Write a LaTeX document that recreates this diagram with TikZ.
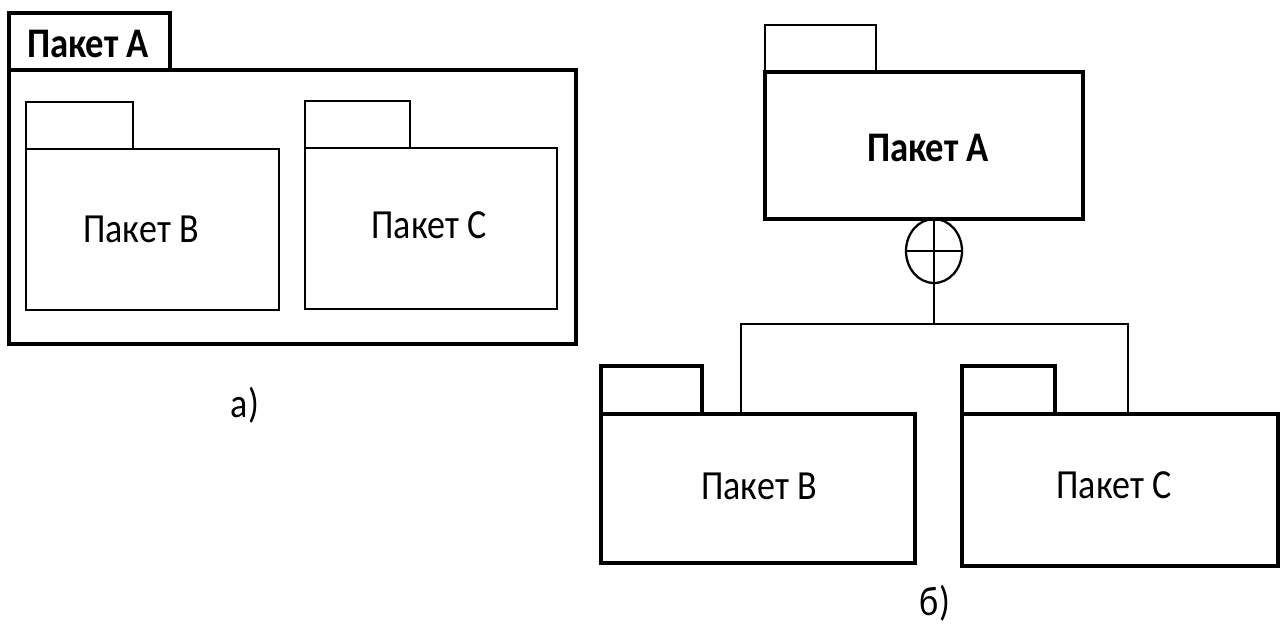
\documentclass[tikz,border=0pt]{standalone}
\usepackage{fontspec}
\setmainfont{Carlito}
\usetikzlibrary{shapes.geometric}
\tikzset{
  thickbox/.style={draw=black, line width=3.2pt, inner sep=0pt, rectangle, fill=none},
  thinbox/.style={draw=black, line width=1.7pt, inner sep=0pt, rectangle, fill=none},
  conn/.style={draw=black, line width=1.4pt},
  lbl/.style={inner sep=0pt, font=\fontsize{27}{32}\selectfont},
  blbl/.style={inner sep=0pt, font=\fontsize{27.5}{32}\selectfont\bfseries},
}
\newcommand{\st}[1]{\scalebox{1}[1.15]{#1}}
\begin{document}
\begin{tikzpicture}[x=0.75pt,y=-0.75pt]
\useasboundingbox (0,0) rectangle (1284,624);
% ---- a) ----
\node[thickbox, minimum width=425.25pt, minimum height=205.5pt] (Aabody) at (292.5,207) {};
\node[thickbox, minimum width=120.75pt, minimum height=42.75pt] (Aatab) at (89.5,41.5) {};
\node[blbl] (Aatxt) at (88,44) {\st{Пакет A}};
\node[thinbox, minimum width=189.75pt, minimum height=120.75pt] (Babody) at (152.5,229.5) {};
\node[thinbox, minimum width=80.25pt, minimum height=35.25pt] (Batab) at (79.5,125.5) {};
\node[lbl] (Batxt) at (141,229) {\st{Пакет B}};
\node[thinbox, minimum width=189pt, minimum height=120.75pt] (Cabody) at (431,228.5) {};
\node[thinbox, minimum width=78.75pt, minimum height=35.25pt] (Catab) at (357.5,124.5) {};
\node[lbl] (Catxt) at (429,225) {\st{Пакет C}};
\node[lbl] (capa) at (245,405) {\st{а)}};
% ---- b) ----
\node[thickbox, minimum width=238.5pt, minimum height=110.25pt] (Abbody) at (924,145.5) {};
\node[thinbox, minimum width=83.25pt, minimum height=35.25pt] (Abtab) at (820.5,48.5) {};
\node[blbl] (Abtxt) at (928,148) {\st{Пакет A}};
\node[thickbox, minimum width=235.5pt, minimum height=111.75pt] (Bbbody) at (758,488.5) {};
\node[thickbox, minimum width=75.75pt, minimum height=36pt] (Bbtab) at (651.5,390) {};
\node[lbl] (Bbtxt) at (759,486) {\st{Пакет B}};
\node[thickbox, minimum width=237pt, minimum height=114pt] (Cbbody) at (1120,490) {};
\node[thickbox, minimum width=69.75pt, minimum height=36pt] (Cbtab) at (1008.5,390) {};
\node[lbl] (Cbtxt) at (1114,485) {\st{Пакет C}};
\node[lbl] (capb) at (935,603) {\st{б)}};
% containment symbol
\node[ellipse, draw=black, line width=1.7pt, inner sep=0pt, minimum width=42pt, minimum height=48pt] (circ) at (934,251) {};
\draw[conn] (circ.west) -- (circ.east);
\coordinate (jm) at (934,324);
\coordinate (jl) at (741,324);
\coordinate (jr) at (1128,324);
\draw[conn] (circ.north) -- (jm);
\draw[conn] (Bbbody.north -| jl) -- (jl) -- (jr) -- (Cbbody.north -| jr);
\end{tikzpicture}
\end{document}
